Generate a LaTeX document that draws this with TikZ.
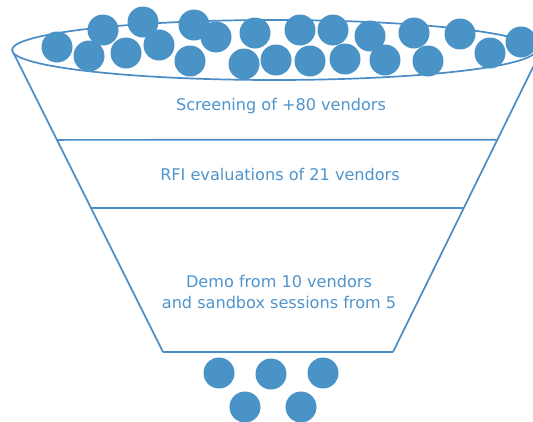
\documentclass[tikz,border=0pt]{standalone}
\usepackage{fontspec}
\setmainfont{DejaVu Sans}
\usetikzlibrary{calc}
\definecolor{funnelblue}{HTML}{4A8DC6}
\definecolor{ballblue}{HTML}{4A93C6}
\definecolor{labelblue}{HTML}{4F94CC}
\tikzset{
  edge/.style={draw=funnelblue, line width=1.7pt},
  ball/.style={fill=ballblue},
  stage/.style={text=labelblue, font=\fontsize{16.1}{20.5}\selectfont, align=center, inner sep=0pt}
}
\begin{document}
\begin{tikzpicture}[x=1pt,y=-1pt]
  \clip (0,0) rectangle (533,421);
  \fill[white] (0,0) rectangle (533,421);

  % funnel corners
  \coordinate (tl) at (13,52);
  \coordinate (tr) at (539,55);
  \coordinate (bl) at (163,352);
  \coordinate (br) at (393,352);

  % funnel sides and stage dividers
  \draw[edge] (tl) -- (bl);
  \draw[edge] (tr) -- (br);
  \draw[edge] ($(tl)!0.293!(bl)$) -- ($(tr)!0.285!(br)$);
  \draw[edge] ($(tl)!0.52!(bl)$) -- ($(tr)!0.515!(br)$);
  \draw[edge] (bl) -- (br);

  % funnel mouth
  \draw[edge, fill=white] (274,50) ellipse [x radius=262pt, y radius=30pt];

  % candidates entering the funnel
  \foreach \cx/\cy in {57/47, 89/56, 103/30, 126/53, 143/22, 159/45, 194/25,
      190/61, 216/37, 244/64, 255/33, 276/60, 300/30, 310/61, 333/30, 345/59,
      370/36, 385/60, 414/33, 428/61, 460/34, 490/53, 521/42}
    \fill[ball] (\cx,\cy) circle [radius=15.5pt];

  % selected vendors leaving the funnel
  \foreach \cx/\cy in {219/373, 271/374, 323/373, 245/407, 301/407}
    \fill[ball] (\cx,\cy) circle [radius=15.5pt];

  % stage labels
  \node[stage] (s1) at (281,106) {Screening of +80 vendors};
  \node[stage] (s2) at (280,174) {RFI evaluations of 21 vendors};
  \node[stage] (s3) at (279,292) {Demo from 10 vendors\\and sandbox sessions from 5};
\end{tikzpicture}
\end{document}
